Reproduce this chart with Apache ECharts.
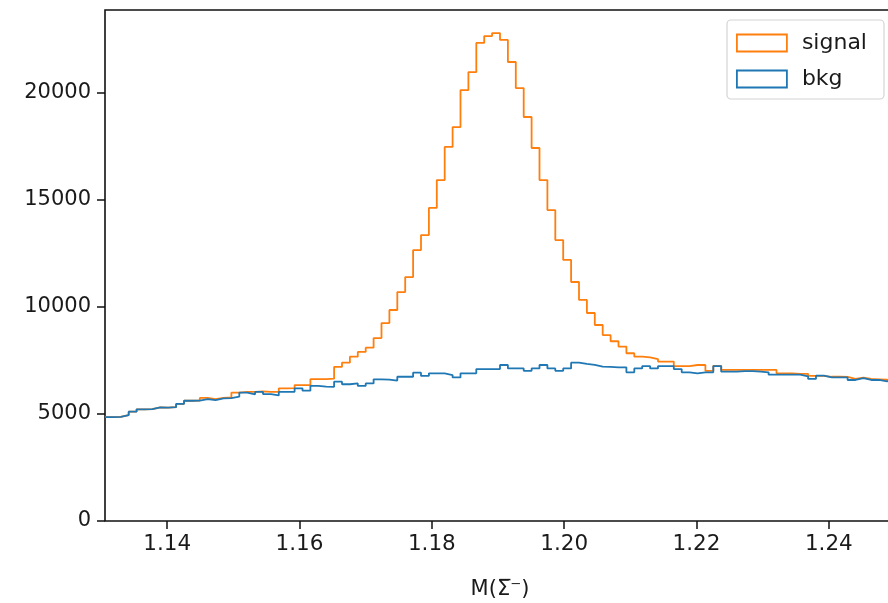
<!DOCTYPE html>
<html>
<head>
<meta charset="utf-8">
<script src="https://cdn.jsdelivr.net/npm/echarts@6/dist/echarts.min.js"></script>
<style>html,body{margin:0;padding:0;background:#fff}#c{width:888px;height:603px}</style>
</head>
<body>
<div id="c"></div>
<script>
// Histogram range and bin count
const X_MIN = 1.1306;
const X_MAX = 1.2500;
const N_BINS = 100;
const Y_MAX = 23880;

const xTicks = [1.14, 1.16, 1.18, 1.20, 1.22, 1.24];
const yTicks = [0, 5000, 10000, 15000, 20000];

const seriesNames = ['signal', 'bkg'];

// bin counts (100 bins from X_MIN to X_MAX)
const signalCounts = [
  4850, 4870, 4950, 5110, 5220, 5230, 5310, 5300, 5320, 5470,
  5620, 5630, 5750, 5700, 5750, 5780, 6000, 6030, 6030, 6060,
  6030, 6030, 6200, 6210, 6350, 6350, 6630, 6630, 6650, 7200,
  7400, 7680, 7900, 8100, 8550, 9250, 9860, 10700, 11400, 12660,
  13360, 14630, 15930, 17480, 18410, 20140, 20980, 22340, 22660, 22800,
  22480, 21450, 20230, 18880, 17430, 15930, 14530, 13130, 12200, 11170,
  10330, 9720, 9160, 8690, 8400, 8150, 7840, 7680, 7650, 7570,
  7450, 7450, 7240, 7240, 7290, 7290, 7020, 7250, 7060, 7060,
  7060, 7060, 7060, 7060, 7060, 6900, 6900, 6880, 6880, 6780,
  6780, 6740, 6740, 6730, 6640, 6700, 6640, 6620, 6600, 6580
];
const bkgCounts = [
  4850, 4870, 4950, 5110, 5220, 5230, 5310, 5300, 5320, 5470,
  5620, 5630, 5700, 5650, 5730, 5740, 5810, 6000, 5920, 6030,
  5930, 5870, 6030, 6040, 6200, 6090, 6310, 6280, 6270, 6510,
  6390, 6430, 6310, 6430, 6620, 6610, 6560, 6740, 6740, 6930,
  6780, 6900, 6900, 6820, 6710, 6900, 6900, 7100, 7100, 7100,
  7290, 7130, 7130, 7020, 7130, 7290, 7130, 7020, 7130, 7400,
  7340, 7300, 7210, 7200, 7180, 7180, 6950, 7130, 7240, 7130,
  7240, 7240, 7100, 6950, 6900, 6950, 6950, 7240, 6980, 6980,
  7000, 7000, 6980, 6950, 6840, 6840, 6840, 6840, 6760, 6640,
  6790, 6710, 6710, 6710, 6590, 6680, 6590, 6590, 6530, 6560
];

const colors = ['#ff7f0e', '#1f77b4'];

function stepData(counts) {
  const w = (X_MAX - X_MIN) / N_BINS;
  const pts = [];
  for (let i = 0; i < counts.length; i++) pts.push([X_MIN + i * w, counts[i]]);
  pts.push([X_MIN + counts.length * w, counts[counts.length - 1]]);
  return pts;
}

const FONT = 'DejaVu Sans';
const TXT = '#1a1a1a';
const chart = echarts.init(document.getElementById('c'), null, {renderer: 'canvas'});
chart.setOption({
  animation: false,
  backgroundColor: '#fff',
  grid: {left: 105, top: 10, width: 790, height: 511, show: true, borderColor: '#111', borderWidth: 1.6,
         backgroundColor: 'transparent', containLabel: false, outerBoundsMode: 'none'},
  legend: {
    orient: 'vertical', left: 727, top: 20,
    padding: [12, 17, 9, 9],
    backgroundColor: '#fff', borderColor: '#d4d4d4', borderWidth: 1.2, borderRadius: 4,
    itemWidth: 50, itemHeight: 17, itemGap: 14,
    textStyle: {fontFamily: FONT, fontSize: 22, lineHeight: 17, color: TXT, padding: [0, 0, 0, 10]},
    data: seriesNames.map((n, i) => ({name: n, icon: 'rect', itemStyle: {color: '#fff', borderColor: colors[i], borderWidth: 1.8}}))
  },
  xAxis: {
    type: 'value', min: X_MIN, max: X_MAX,
    name: 'M(Σ̅⁻)', nameLocation: 'middle', nameGap: 58,
    nameTextStyle: {fontFamily: FONT, fontSize: 21, color: TXT},
    axisLine: {show: false},
    splitLine: {show: false},
    axisTick: {show: true, length: 8, lineStyle: {color: '#111', width: 1.5}, customValues: xTicks},
    axisLabel: {fontFamily: FONT, fontSize: 21.5, color: TXT, margin: 12, customValues: xTicks, formatter: v => v.toFixed(2)}
  },
  yAxis: {
    type: 'value', min: 0, max: Y_MAX,
    axisLine: {show: false},
    splitLine: {show: false},
    axisTick: {show: true, length: 8, lineStyle: {color: '#111', width: 1.5}, customValues: yTicks},
    axisLabel: {fontFamily: FONT, fontSize: 21, color: TXT, margin: 14, customValues: yTicks, formatter: v => String(v)}
  },
  series: [
    {name: seriesNames[0], type: 'line', step: 'end', data: stepData(signalCounts), showSymbol: false, symbol: 'none',
     lineStyle: {color: colors[0], width: 1.8}, itemStyle: {color: colors[0]}, clip: true},
    {name: seriesNames[1], type: 'line', step: 'end', data: stepData(bkgCounts), showSymbol: false, symbol: 'none',
     lineStyle: {color: colors[1], width: 1.8}, itemStyle: {color: colors[1]}, clip: true}
  ]
});
</script>
</body>
</html>
